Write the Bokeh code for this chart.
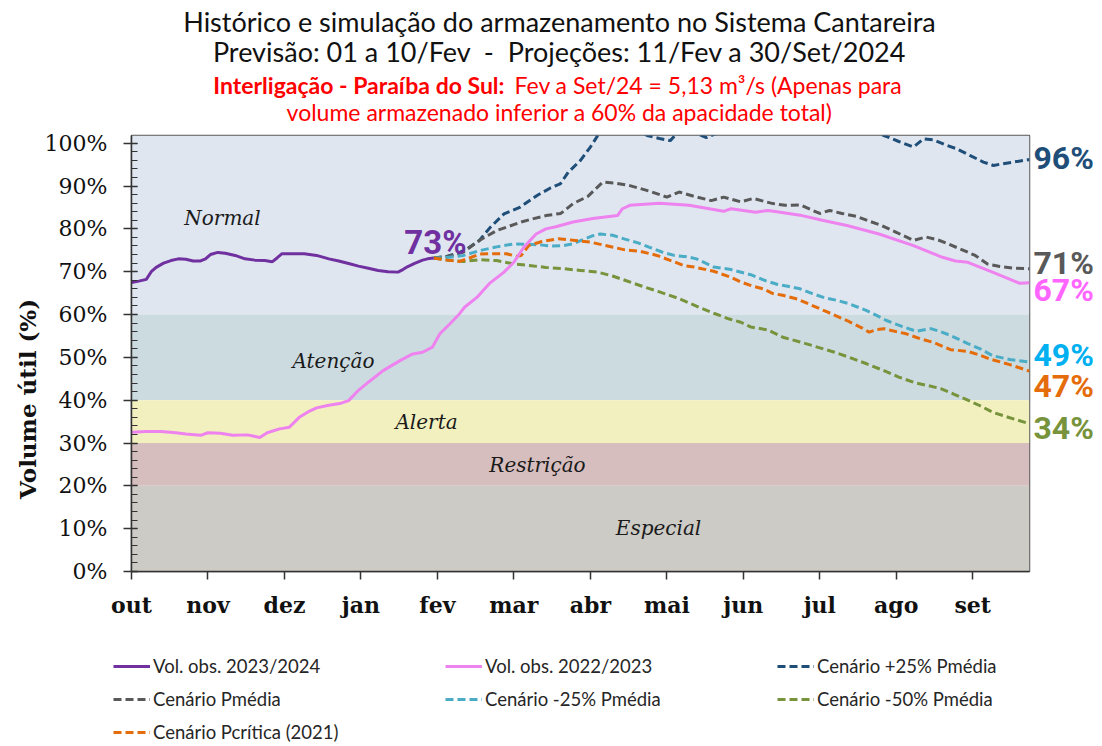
import math
from bokeh.plotting import figure
from bokeh.layouts import column, row
from bokeh.models import (BoxAnnotation, Label, Legend, LegendItem, FixedTicker,
                          SingleIntervalTicker, PrintfTickFormatter, Range1d)
from bokeh.embed import file_html
from bokeh.resources import INLINE

# ---------------- data ----------------
months = ["out", "nov", "dez", "jan", "fev", "mar", "abr", "mai", "jun", "jul", "ago", "set"]
month_ticks = [0, 31, 62, 93, 124, 155, 186, 217, 248, 279, 310, 341]

obs23_days = [0, 3, 6, 8, 10, 13, 16, 19, 22, 25, 28, 30, 32, 35, 38, 42, 46, 50, 54, 57, 59, 61,
              65, 70, 75, 80, 84, 88, 92, 96, 100, 104, 108, 110, 112, 115, 118, 120, 122.5]
obs23 = [67.5, 67.8, 68.2, 70.0, 71.0, 72.0, 72.6, 73.0, 72.9, 72.5, 72.5, 73.0, 74.0, 74.5, 74.3,
         73.8, 73.0, 72.7, 72.6, 72.3, 73.2, 74.2, 74.2, 74.2, 73.8, 73.0, 72.5, 71.9, 71.3, 70.8,
         70.3, 70.0, 69.9, 70.5, 71.2, 72.0, 72.7, 73.0, 73.2]

obs22_days = [0, 6, 12, 18, 22, 28, 31, 36, 41, 47, 52, 55, 60, 64, 68, 72, 75, 80, 85, 88, 92, 96,
              102, 109, 114, 118, 122, 125, 129, 133, 135, 140, 145, 151, 155, 159, 164, 168, 172,
              179, 187, 197, 199, 202, 214, 226, 240, 243, 253, 258, 263, 271, 280, 290, 303, 317,
              328, 334, 339, 349, 360, 364]
obs22 = [32.5, 32.7, 32.7, 32.4, 32.1, 31.8, 32.4, 32.3, 31.8, 31.9, 31.3, 32.4, 33.3, 33.7, 36.0,
         37.4, 38.2, 38.8, 39.3, 39.9, 42.3, 44.2, 46.9, 49.3, 50.8, 51.2, 52.4, 55.5, 57.8, 60.2,
         61.7, 64.0, 67.2, 69.9, 72.2, 75.7, 78.8, 80.0, 80.5, 81.6, 82.4, 83.1, 84.7, 85.5, 86.0,
         85.5, 84.1, 84.7, 83.9, 84.3, 83.9, 83.2, 82.0, 80.8, 78.8, 76.1, 73.5, 72.5, 72.2, 69.9,
         67.3, 67.4]

p25_days = [122.5, 128, 133, 136, 141, 145.5, 151, 157.6, 164.4, 170, 173.8, 177, 182, 186, 189,
            195, 203, 209, 214, 218.4, 220.5, 226, 233, 238, 250, 260, 270, 280, 290, 300, 305,
            311, 317, 321, 325, 330, 334.5, 340, 345.3, 349.4, 353, 357.5, 364]
p25 = [73.2, 73.6, 74.5, 75.3, 77.3, 80.4, 83.5, 85.1, 87.8, 89.6, 90.5, 93.2, 96.0, 99.1, 101.8,
       104, 104, 101.8, 101.1, 100.6, 101.9, 103, 101.3, 102.5, 106, 108, 107, 105, 104, 103,
       101.8, 100.4, 99.1, 101.0, 100.8, 99.6, 98.7, 97.1, 95.6, 94.8, 95.2, 95.6, 96.2]

pm_days = [122.5, 128, 134.6, 141, 148, 153, 158, 163, 168, 174, 179, 185, 191, 196, 202, 210,
           217, 222, 228, 235, 240, 247, 252, 260, 265, 271, 279, 283, 288, 294, 299, 304, 310,
           317, 322, 327, 331, 338, 342, 347, 352, 358, 364]
pm = [73.2, 73.5, 74.6, 77.3, 79.6, 80.6, 81.6, 82.4, 83.1, 83.6, 85.9, 87.6, 90.9, 90.7, 90.1,
      88.8, 87.4, 88.6, 87.6, 86.6, 87.4, 86.3, 87.1, 85.9, 85.5, 85.6, 83.6, 84.3, 83.6, 82.9,
      81.8, 80.8, 79.2, 77.3, 78.1, 77.4, 76.5, 74.8, 73.8, 71.8, 71.2, 70.8, 70.7]

m25_days = [122.5, 128, 134.6, 141, 148, 155, 160, 165, 170, 175, 179, 183, 187, 190, 195, 200,
            205, 210, 215, 220, 225, 229, 236, 243, 251, 257, 262, 266, 271, 276, 281, 286, 291,
            298, 302, 306, 312, 318, 324, 328, 332, 339, 344, 349, 356, 364]
m25 = [73.2, 73.3, 73.8, 74.9, 75.8, 76.5, 76.4, 76.3, 76.0, 76.1, 76.5, 77.5, 78.4, 78.8, 78.5,
       77.6, 76.8, 75.7, 74.6, 73.8, 73.5, 73.0, 71.1, 70.5, 69.3, 67.9, 67.0, 66.6, 66.0, 64.9,
       63.9, 63.3, 62.5, 60.9, 59.8, 58.6, 57.3, 56.1, 56.7, 56.0, 55.1, 53.2, 52.0, 50.4, 49.5,
       48.9]

m50_days = [122.5, 128, 134.6, 141, 148, 155, 162, 168, 175, 182, 189, 195, 200, 207, 214, 222,
            230, 236, 242, 247, 251, 258, 264, 271, 278, 285, 291, 298, 305, 311, 318, 323, 328,
            333, 339, 344, 349, 356, 364]
m50 = [73.2, 72.7, 72.4, 72.8, 72.6, 71.8, 71.4, 71.0, 70.7, 70.3, 69.9, 69.0, 68.0, 66.6, 65.3,
       63.7, 61.7, 60.3, 59.0, 58.2, 57.1, 56.4, 54.7, 53.6, 52.4, 51.2, 50.0, 48.5, 46.9, 45.4,
       44.0, 43.4, 42.7, 41.5, 40.0, 38.7, 37.2, 35.9, 34.5]

pc_days = [122.5, 128, 133, 137, 141, 146, 152, 156, 158, 161, 166, 173, 180, 186, 193, 200, 206,
           213, 220, 224, 228, 236, 243, 247, 252, 256, 260, 264, 270, 276, 282, 290, 296, 299,
           302, 305, 310, 314, 320, 325, 332, 339, 344, 348, 356, 364]
pc = [73.2, 72.7, 72.4, 73.2, 74.1, 74.2, 74.2, 73.6, 73.8, 76.1, 77.0, 77.7, 77.3, 76.9, 76.0,
      75.1, 74.8, 73.8, 72.3, 71.4, 71.1, 70.1, 68.7, 67.6, 66.6, 66.0, 64.9, 64.5, 63.6, 62.1,
      60.6, 58.6, 56.9, 55.9, 56.5, 56.7, 56.0, 55.5, 54.3, 53.5, 51.8, 51.4, 50.5, 49.6, 48.3,
      46.8]

series_labels = ["Vol. obs. 2023/2024", "Vol. obs. 2022/2023", "Cenário +25% Pmédia",
                 "Cenário Pmédia", "Cenário -25% Pmédia", "Cenário -50% Pmédia",
                 "Cenário Pcrítica (2021)"]
series_colors = ["#7030a0", "#ee82ee", "#1f4e79", "#595959", "#4bacc6", "#77933c", "#e46c0a"]
series_dash = ["solid", "solid", "8 4", "8 4", "8 4", "8 4", "8 4"]

band_names = ["Normal", "Atenção", "Alerta", "Restrição", "Especial"]
band_bottom = [60, 40, 30, 20, 0]
band_top = [None, 60, 40, 30, 20]
band_colors = ["#dfe6f0", "#ccdbe0", "#f2f0bf", "#d6bebe", "#cdcbc6"]

end_labels = ["96%", "71%", "67%", "49%", "47%", "34%"]
end_colors = ["#1f4e79", "#595959", "#ff66ff", "#00b0f0", "#e46c0a", "#77933c"]

# ---------------- layout geometry (pixels of the picture) ----------------
TOTAL_W, TOTAL_H = 1100, 746
TITLE_H = 127
ROW_BOTTOM = 640
ROW_H = ROW_BOTTOM - TITLE_H
LEFT_W = 40
FRAME_L, FRAME_R, FRAME_T, FRAME_B = 131, 1029, 135, 571
MAIN_W = FRAME_R + 3 - LEFT_W
RIGHT_W = TOTAL_W - LEFT_W - MAIN_W
LEG_H = TOTAL_H - ROW_BOTTOM
X_END = 364.0
Y_END = 101.8


def dx(px):
    return (px - FRAME_L) * X_END / (FRAME_R - FRAME_L)


def dy(py):
    return (FRAME_B - py) * Y_END / (FRAME_B - FRAME_T)


def blank(fig):
    fig.axis.visible = False
    fig.xgrid.visible = False
    fig.ygrid.visible = False
    fig.outline_line_color = None
    fig.background_fill_color = "white"
    fig.border_fill_color = "white"
    return fig


def ttext(fig, txt, x, y, size, color="#111111", style="normal", align="center",
          font="Lato", angle=0.0):
    fig.add_layout(Label(x=x, y=y, text=txt, text_font=font, text_font_size=size,
                         text_color=color, text_font_style=style, text_align=align,
                         text_baseline="middle", angle=angle))


# ---------------- title figure ----------------
tf = blank(figure(width=TOTAL_W, height=TITLE_H, output_backend="svg", toolbar_location=None,
                  x_range=Range1d(0, TOTAL_W), y_range=Range1d(TITLE_H, 0),
                  min_border=0))
NB = "\u00a0"
ttext(tf, "Histórico e simulação do armazenamento no Sistema Cantareira", 559, 21, "27px")
ttext(tf, "Previsão: 01 a 10/Fev" + NB * 2 + "-" + NB * 2 + "Projeções: 11/Fev a 30/Set/2024",
      559, 51, "27px")
ttext(tf, "Interligação - Paraíba do Sul:", 504, 84, "23px", color="#ff0000", style="bold",
      align="right")
ttext(tf, "Fev a Set/24 = 5,13 m³/s (Apenas para", 514, 84, "23px", color="#ff0000",
      align="left")
ttext(tf, "volume armazenado inferior a 60% da apacidade total)", 559, 111, "23px",
      color="#ff0000")

# ---------------- left (y-axis title) figure ----------------
lf = blank(figure(width=LEFT_W, height=ROW_H, output_backend="svg", toolbar_location=None,
                  x_range=Range1d(0, LEFT_W), y_range=Range1d(ROW_BOTTOM, TITLE_H),
                  min_border=0))
ttext(lf, "Volume útil (%)", 27, 437, "23px", style="bold", font="DejaVu Serif",
      angle=math.pi / 2)

# ---------------- main figure ----------------
yr = Range1d(0, Y_END)
p = figure(width=MAIN_W, height=ROW_H, output_backend="svg", toolbar_location=None,
           x_range=Range1d(0, X_END), y_range=yr,
           min_border_left=FRAME_L - LEFT_W, min_border_right=3,
           min_border_top=FRAME_T - TITLE_H, min_border_bottom=ROW_BOTTOM - FRAME_B)
p.background_fill_color = "white"
p.border_fill_color = "white"
p.outline_line_color = "#595959"
p.outline_line_width = 1.5
p.xgrid.visible = False
p.ygrid.visible = False

for b, t, c in zip(band_bottom, band_top, band_colors):
    p.add_layout(BoxAnnotation(bottom=b, top=t, fill_color=c, fill_alpha=1.0,
                               line_alpha=0, level="underlay"))

p.xaxis.ticker = FixedTicker(ticks=month_ticks)
p.xaxis.major_label_overrides = {t: m for t, m in zip(month_ticks, months)}
p.xaxis.major_label_text_font = "DejaVu Serif"
p.xaxis.major_label_text_font_style = "bold"
p.xaxis.major_label_text_font_size = "22px"
p.xaxis.major_label_text_color = "#111111"
p.xaxis.major_tick_in = 0
p.xaxis.major_tick_out = 8
p.xaxis.minor_tick_in = 0
p.xaxis.minor_tick_out = 0
p.xaxis.major_label_standoff = 12
p.xaxis.axis_line_color = "#333333"
p.xaxis.axis_line_width = 1.5
p.xaxis.major_tick_line_color = "#333333"
p.xaxis.major_tick_line_width = 1.5

p.yaxis.ticker = SingleIntervalTicker(interval=10, num_minor_ticks=5)
p.yaxis.formatter = PrintfTickFormatter(format="%d%%")
p.yaxis.major_label_text_font = "DejaVu Serif"
p.yaxis.major_label_text_font_size = "22px"
p.yaxis.major_label_text_color = "#111111"
p.yaxis.major_tick_in = 6
p.yaxis.major_tick_out = 8
p.yaxis.minor_tick_in = 6
p.yaxis.minor_tick_out = 0
p.yaxis.major_label_standoff = 16
p.yaxis.axis_line_color = "#333333"
p.yaxis.axis_line_width = 1.5
p.yaxis.major_tick_line_color = "#333333"
p.yaxis.minor_tick_line_color = "#333333"
p.yaxis.major_tick_line_width = 1.5

series = [(obs23_days, obs23), (obs22_days, obs22), (p25_days, p25), (pm_days, pm),
          (m25_days, m25), (m50_days, m50), (pc_days, pc)]
draw_order = [2, 3, 4, 5, 6, 1, 0]
for i in draw_order:
    xs, ys = series[i]
    p.line(xs, ys, line_color=series_colors[i], line_width=3, line_dash=series_dash[i])

band_label_pos = [(222, 217), (333, 360), (426, 421), (537, 464), (658, 527)]
for name, (bx, by) in zip(band_names, band_label_pos):
    p.add_layout(Label(x=dx(bx), y=dy(by), text=name, text_font="DejaVu Serif",
                       text_font_size="20px", text_font_style="italic", text_color="#1a1a1a",
                       text_align="center", text_baseline="middle"))

p.add_layout(Label(x=dx(435), y=dy(242), text="73%", text_font="Roboto", text_font_size="33px",
                   text_font_style="bold", text_color="#7030a0", text_align="center",
                   text_baseline="middle"))

# ---------------- right (end values) figure ----------------
rf = blank(figure(width=RIGHT_W, height=ROW_H, output_backend="svg", toolbar_location=None,
                  x_range=Range1d(FRAME_R + 3, TOTAL_W), y_range=yr,
                  min_border_left=0, min_border_right=0,
                  min_border_top=FRAME_T - TITLE_H, min_border_bottom=ROW_BOTTOM - FRAME_B))
end_pos = [157, 262, 289, 354, 385, 427]
for txt, col, ey in zip(end_labels, end_colors, end_pos):
    rf.add_layout(Label(x=1033, y=dy(ey), text=txt, text_font="Roboto", text_font_size="32px",
                        text_font_style="bold", text_color=col, text_align="left",
                        text_baseline="middle"))

# ---------------- legend figure (series drawn out of view; legend keys only) ----------------
gf = blank(figure(width=TOTAL_W, height=LEG_H, output_backend="svg", toolbar_location=None,
                  x_range=Range1d(1000, 1000 + TOTAL_W), y_range=Range1d(0, LEG_H),
                  min_border=0))
items = []
for (xs, ys), lab, col, dash in zip(series, series_labels, series_colors, series_dash):
    r = gf.line(xs, ys, line_color=col, line_width=3, line_dash=dash)
    items.append(LegendItem(label=lab, renderers=[r]))
legend = Legend(items=items, ncols=3, orientation="horizontal", location=(113, 2))
legend.glyph_width = 37
legend.glyph_height = 24
legend.label_height = 24
legend.label_width = 283
legend.label_standoff = 3
legend.spacing = 9
legend.padding = 0
legend.margin = 0
legend.border_line_alpha = 0
legend.background_fill_alpha = 0
legend.label_text_font = "Lato"
legend.label_text_font_size = "18.5px"
legend.label_text_color = "#262626"
gf.add_layout(legend, "center")

layout = column(tf, row(lf, p, rf, spacing=0), gf, spacing=0)
open("out.html", "w").write(file_html(layout, INLINE))
